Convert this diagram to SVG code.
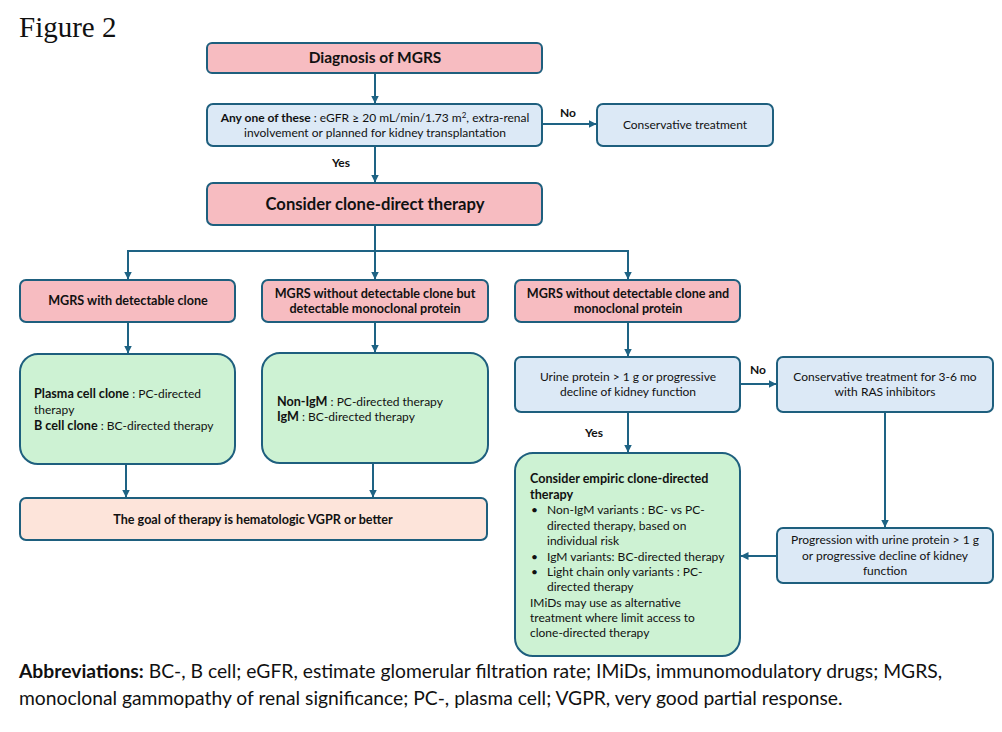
<svg xmlns="http://www.w3.org/2000/svg" width="1002" height="732" viewBox="0 0 1002 732">
<defs>
<marker id="ah" viewBox="0 0 8 8" refX="7.5" refY="4" markerWidth="8" markerHeight="8" markerUnits="userSpaceOnUse" orient="auto">
<path d="M0,0 L8,4 L0,8 z" fill="#1e6384"/>
</marker>
<style>
.box{stroke:#1e5f7e;stroke-width:2}
.pink{fill:#f7bcc1}
.blue{fill:#dce9f6}
.green{fill:#cdf2d3}
.peach{fill:#fde4da}
.t{font-family:Lato,"Liberation Sans",sans-serif;font-size:12px;fill:#111}
.b{font-weight:bold;font-size:12.6px}
.c{text-anchor:middle}
.big{font-size:16.6px}
.lbl{font-family:Lato,"Liberation Sans",sans-serif;font-size:12px;font-weight:bold;fill:#111;text-anchor:middle}
.ln{stroke:#1e6384;stroke-width:2;fill:none}
.ar{stroke:#1e6384;stroke-width:2;fill:none;marker-end:url(#ah)}
.ab{font-family:Lato,"Liberation Sans",sans-serif;font-size:19.3px;fill:#111}
</style>
</defs>
<rect width="1002" height="732" fill="#ffffff"/>
<text x="19" y="37" font-family="'Liberation Serif',serif" font-size="29" fill="#111">Figure 2</text>

<g id="connectors">
<line class="ar" x1="375" y1="73" x2="375" y2="103"/>
<line class="ar" x1="542" y1="124" x2="596" y2="124"/>
<line class="ar" x1="375" y1="146" x2="375" y2="182"/>
<polyline class="ln" points="375,225 375,251"/>
<line class="ln" x1="127" y1="251" x2="628" y2="251"/>
<line class="ar" x1="128" y1="250" x2="128" y2="279"/>
<line class="ar" x1="375" y1="250" x2="375" y2="279"/>
<line class="ar" x1="628" y1="250" x2="628" y2="279"/>
<line class="ar" x1="128" y1="322" x2="128" y2="353"/>
<line class="ar" x1="375" y1="322" x2="375" y2="352"/>
<line class="ar" x1="628" y1="322" x2="628" y2="356"/>
<line class="ar" x1="126" y1="464" x2="126" y2="497"/>
<line class="ar" x1="373" y1="463" x2="373" y2="497"/>
<line class="ar" x1="740" y1="384" x2="776" y2="384"/>
<line class="ar" x1="628" y1="412" x2="628" y2="452"/>
<line class="ar" x1="885" y1="412" x2="885" y2="527"/>
<line class="ar" x1="777" y1="556" x2="741" y2="556"/>
<text class="lbl" x="568" y="117">No</text>
<text class="lbl" x="341" y="167">Yes</text>
<text class="lbl" x="758" y="374">No</text>
<text class="lbl" x="594" y="437">Yes</text>
</g>

<g id="diagnosis">
<rect class="box pink" x="207" y="43" width="335" height="30" rx="5"/>
<text class="t b c" x="375" y="63" style="font-size:15.5px">Diagnosis of MGRS</text>
</g>

<g id="anyone">
<rect class="box blue" x="207" y="104" width="335" height="42" rx="6"/>
<text class="t c" x="375" y="122"><tspan class="b" style="font-size:12px">Any one of these</tspan> : eGFR ≥ 20 mL/min/1.73 m<tspan style="font-size:8px" dy="-4">2</tspan><tspan dy="4">, extra-renal</tspan></text>
<text class="t c" x="375" y="137">involvement or planned for kidney transplantation</text>
</g>

<g id="conservative">
<rect class="box blue" x="597" y="104" width="176" height="42" rx="6"/>
<text class="t c" x="685" y="129">Conservative treatment</text>
</g>

<g id="consider">
<rect class="box pink" x="207" y="183" width="335" height="42" rx="6"/>
<text class="t b c big" x="375" y="210">Consider clone-direct therapy</text>
</g>

<g id="withclone">
<rect class="box pink" x="20" y="280" width="215" height="42" rx="6"/>
<text class="t b c" x="128" y="305">MGRS with detectable clone</text>
</g>

<g id="withoutclone-protein">
<rect class="box pink" x="262" y="280" width="226" height="42" rx="6"/>
<text class="t b c" x="375" y="298">MGRS without detectable clone but</text>
<text class="t b c" x="375" y="313">detectable monoclonal protein</text>
</g>

<g id="withoutclone-noprotein">
<rect class="box pink" x="515" y="280" width="225" height="42" rx="6"/>
<text class="t b c" x="628" y="298">MGRS without detectable clone and</text>
<text class="t b c" x="628" y="313">monoclonal protein</text>
</g>

<g id="pc-bc">
<rect class="box green" x="20" y="354" width="215" height="110" rx="18"/>
<text class="t" x="34" y="398"><tspan class="b">Plasma cell clone</tspan> : PC-directed</text>
<text class="t" x="34" y="414">therapy</text>
<text class="t" x="34" y="430"><tspan class="b">B cell clone</tspan> : BC-directed therapy</text>
</g>

<g id="igm">
<rect class="box green" x="262" y="353" width="226" height="110" rx="18"/>
<text class="t" x="277" y="406"><tspan class="b">Non-IgM</tspan> : PC-directed therapy</text>
<text class="t" x="277" y="421"><tspan class="b">IgM</tspan> : BC-directed therapy</text>
</g>

<g id="goal">
<rect class="box peach" x="20" y="498" width="467" height="42" rx="6"/>
<text class="t b c" x="253" y="524">The goal of therapy is hematologic VGPR or better</text>
</g>

<g id="urine">
<rect class="box blue" x="515" y="357" width="225" height="55" rx="6"/>
<text class="t c" x="628" y="381">Urine protein &gt; 1 g or progressive</text>
<text class="t c" x="628" y="396">decline of kidney function</text>
</g>

<g id="ras">
<rect class="box blue" x="777" y="357" width="216" height="55" rx="6"/>
<text class="t c" x="885" y="381">Conservative treatment for 3-6 mo</text>
<text class="t c" x="885" y="396">with RAS inhibitors</text>
</g>

<g id="progression">
<rect class="box blue" x="777" y="528" width="216" height="55" rx="6"/>
<text class="t c" x="885" y="544">Progression with urine protein &gt; 1 g</text>
<text class="t c" x="885" y="560">or progressive decline of kidney</text>
<text class="t c" x="885" y="575">function</text>
</g>

<g id="empiric">
<rect class="box green" x="515" y="453" width="225" height="203" rx="18"/>
<text class="t b" x="530" y="483">Consider empiric clone-directed</text>
<text class="t b" x="530" y="499">therapy</text>
<text class="t" x="531" y="514">•</text>
<text class="t" x="547" y="514">Non-IgM variants : BC- vs PC-</text>
<text class="t" x="547" y="530">directed therapy, based on</text>
<text class="t" x="547" y="545">individual risk</text>
<text class="t" x="531" y="561">•</text>
<text class="t" x="547" y="561">IgM variants: BC-directed therapy</text>
<text class="t" x="531" y="576">•</text>
<text class="t" x="547" y="576">Light chain only variants : PC-</text>
<text class="t" x="547" y="591">directed therapy</text>
<text class="t" x="530" y="607">IMiDs may use as alternative</text>
<text class="t" x="530" y="622">treatment where limit access to</text>
<text class="t" x="530" y="637">clone-directed therapy</text>
</g>

<g id="abbreviations">
<text class="ab" x="19" y="678"><tspan font-weight="bold">Abbreviations:</tspan> BC-, B cell; eGFR, estimate glomerular filtration rate; IMiDs, immunomodulatory drugs; MGRS,</text>
<text class="ab" x="19" y="705">monoclonal gammopathy of renal significance; PC-, plasma cell; VGPR, very good partial response.</text>
</g>
</svg>
